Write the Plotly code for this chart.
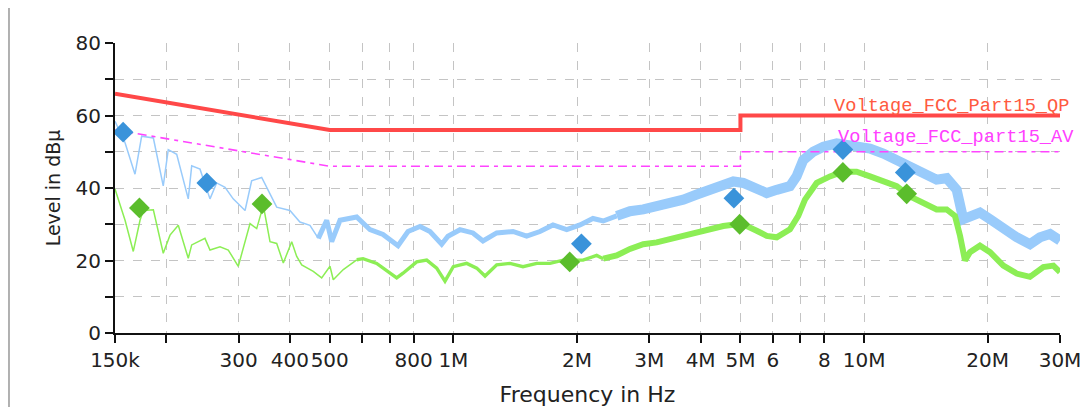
import plotly.graph_objects as go

# ---------------- data ----------------
# Peak (QP scan) trace, light blue
qp_freq = [150e3, 158.7e3, 167.8e3, 174.2e3, 186e3, 196.6e3, 202.2e3, 212e3, 226.2e3, 230.6e3,
           241.6e3, 255.5e3, 265.2e3, 278e3, 291e3, 311e3, 322.7e3, 341.4e3, 357.7e3, 371.4e3,
           400e3, 423e3, 447.5e3, 469e3, 491.6e3, 505.5e3, 529.6e3, 581.6e3, 626.7e3, 674e3,
           712.9e3, 733.2e3, 775.4e3, 829.2e3, 877.2e3, 936.6e3, 970.2e3, 1.0377e6, 1.1161e6, 1.1806e6,
           1.275e6, 1.397e6, 1.508e6, 1.625e6, 1.748e6, 1.888e6, 2.034e6, 2.187e6, 2.317e6, 2.499e6,
           2.692e6, 2.9e6, 3.127e6, 3.368e6, 3.629e6, 3.914e6, 4.216e6, 4.542e6, 4.805e6, 5.081e6,
           5.477e6, 5.794e6, 6.128e6, 6.6e6, 6.85e6, 7.11e6, 7.52e6, 7.96e6, 8.58e6, 9.59e6,
           10.34e6, 11.14e6, 12.01e6, 12.94e6, 13.94e6, 15.02e6, 15.89e6, 16.81e6, 17.44e6, 18.11e6,
           19.15e6, 20.26e6, 21.83e6, 23.53e6, 25.35e6, 26.82e6, 28.37e6, 30e6]
qp_level = [58.4, 52.5, 43.8, 54.3, 53.8, 40.6, 50.6, 49.3, 37.0, 46.1,
            45.2, 37.0, 41.4, 40.2, 37.0, 33.8, 42.0, 42.9, 38.4, 34.7,
            33.8, 30.6, 29.7, 26.1, 31.1, 25.2, 31.1, 32.0, 28.5, 27.2,
            25.4, 24.1, 28.0, 29.4, 28.0, 24.5, 26.7, 28.5, 27.6, 25.4,
            27.6, 28.0, 26.7, 28.0, 29.8, 28.5, 29.8, 31.6, 30.9, 32.3,
            33.6, 34.1, 35.0, 35.5, 36.8, 38.2, 39.5, 40.9, 41.8, 41.4,
            40.0, 38.6, 39.5, 40.5, 43.2, 47.7, 50.0, 51.4, 52.3, 51.8,
            50.9, 49.5, 47.7, 45.9, 44.5, 42.3, 42.7, 39.5, 31.4, 32.3,
            33.2, 31.4, 28.6, 26.4, 24.5, 26.4, 27.3, 25.5]

# Average trace, light green
av_freq = [150e3, 158.7e3, 166.2e3, 172.6e3, 175.8e3, 186e3, 196.6e3, 204.2e3, 213.9e3, 226.2e3,
           230.6e3, 248.4e3, 255.5e3, 270.3e3, 283.1e3, 299.4e3, 319.8e3, 332e3, 344.5e3, 357.7e3,
           371.4e3, 385.4e3, 404e3, 415.5e3, 427.3e3, 455.9e3, 477.9e3, 500.7e3, 510e3, 539.5e3,
           581.6e3, 602.7e3, 650.6e3, 700.7e3, 727.8e3, 754e3, 814.1e3, 861.2e3, 910.8e3, 954.1e3,
           999.5e3, 1.0777e6, 1.1399e6, 1.1942e6, 1.275e6, 1.3738e6, 1.4774e6, 1.5954e6, 1.7192e6, 1.8524e6,
           2.0688e6, 2.2334e6, 2.317e6, 2.499e6, 2.692e6, 2.9e6, 3.127e6, 3.368e6, 3.629e6, 3.914e6,
           4.216e6, 4.542e6, 4.897e6, 5.18e6, 5.477e6, 5.794e6, 6.128e6, 6.6e6, 6.915e6, 7.18e6,
           7.667e6, 8.26e6, 8.886e6, 9.59e6, 10.34e6, 11.14e6, 12.01e6, 12.94e6, 13.94e6, 15.02e6,
           15.89e6, 16.65e6, 17.13e6, 17.61e6, 18.11e6, 19.15e6, 20.26e6, 21.83e6, 23.53e6, 25.35e6,
           27.32e6, 28.9e6, 30e6]
av_level = [39.7, 31.1, 22.5, 31.1, 33.8, 34.0, 22.0, 27.0, 29.7, 20.6,
            24.3, 26.1, 22.9, 23.8, 22.9, 18.4, 30.2, 28.8, 35.2, 25.2,
            24.7, 19.3, 25.2, 21.1, 18.8, 17.0, 15.2, 18.4, 14.7, 17.5,
            20.2, 20.5, 19.2, 16.5, 15.2, 16.5, 19.6, 20.1, 17.9, 14.3,
            18.3, 19.2, 17.9, 15.7, 18.8, 19.2, 18.3, 19.2, 19.2, 20.1,
            20.1, 21.4, 20.5, 21.4, 23.2, 24.5, 25.0, 25.9, 26.8, 27.7,
            28.6, 29.5, 30.0, 29.5, 28.2, 26.8, 26.4, 28.6, 32.3, 36.8,
            41.4, 43.2, 44.5, 44.5, 43.2, 41.8, 40.5, 37.7, 35.9, 34.1,
            34.1, 32.3, 26.8, 20.0, 22.3, 24.1, 22.3, 18.6, 16.4, 15.5,
            18.2, 18.6, 16.8]

# Final measurement points
qp_mark_freq = [157e3, 251e3, 2.05e6, 4.82e6, 8.88e6, 12.6e6]
qp_mark_level = [55.4, 41.4, 24.6, 37.2, 50.6, 44.3]
av_mark_freq = [172e3, 342e3, 1.92e6, 4.98e6, 8.88e6, 12.7e6]
av_mark_level = [34.5, 35.6, 19.6, 30.0, 44.3, 38.4]

# Limit lines (FCC Part 15)
limit_freq = [150e3, 500e3, 5e6, 5e6, 30e6]
qp_limit = [66, 56, 56, 60, 60]
av_limit = [56, 46, 46, 50, 50]
qp_limit_name = "Voltage_FCC_Part15_QP"
av_limit_name = "Voltage_FCC_part15_AV"

# Axis ticks
x_tickvals = [150e3, 200e3, 300e3, 400e3, 500e3, 600e3, 700e3, 800e3, 1e6, 2e6, 3e6, 4e6,
              5e6, 6e6, 7e6, 8e6, 10e6, 20e6, 30e6]
x_ticktext = ["150k", "", "300", "400", "500", "", "", "800", "1M", "2M", "3M", "4M",
              "5M", "6", "", "8", "10M", "20M", "30M"]
y_tickvals = [0, 10, 20, 30, 40, 50, 60, 70, 80]
y_ticktext = ["0", "", "20", "", "40", "", "60", "", "80"]

# ---------------- figure ----------------
BLUE_LINE = "#99cbfb"
GREEN_LINE = "#8cee55"
BLUE_MARK = "#3a93da"
GREEN_MARK = "#5bbd2c"


def seg(freqs, levels, lo, hi):
    pts = [(f, v) for f, v in zip(freqs, levels) if lo <= f <= hi]
    return [p[0] for p in pts], [p[1] for p in pts]


fig = go.Figure()

for (lo, hi, w) in [(150e3, 469e3, 1.5), (469e3, 2.499e6, 5), (2.499e6, 30e6, 10)]:
    fx, fy = seg(qp_freq, qp_level, lo, hi)
    fig.add_trace(go.Scatter(x=fx, y=fy, mode="lines", showlegend=False,
                             line=dict(color=BLUE_LINE, width=w), hoverinfo="skip"))

for (lo, hi, w) in [(150e3, 581.6e3, 1.5), (581.6e3, 2.317e6, 3.4), (2.317e6, 30e6, 6)]:
    fx, fy = seg(av_freq, av_level, lo, hi)
    fig.add_trace(go.Scatter(x=fx, y=fy, mode="lines", showlegend=False,
                             line=dict(color=GREEN_LINE, width=w), hoverinfo="skip"))

fig.add_trace(go.Scatter(x=limit_freq, y=av_limit, mode="lines", name=av_limit_name,
                         showlegend=False,
                         line=dict(color="#ff44ff", width=1.6, dash="9px,5px,4px,5px")))
fig.add_trace(go.Scatter(x=limit_freq, y=qp_limit, mode="lines", name=qp_limit_name,
                         showlegend=False, line=dict(color="#ff4848", width=4)))

fig.add_trace(go.Scatter(x=qp_mark_freq, y=qp_mark_level, mode="markers", showlegend=False,
                         marker=dict(symbol="diamond", size=16, color=BLUE_MARK,
                                     line=dict(width=0))))
fig.add_trace(go.Scatter(x=av_mark_freq, y=av_mark_level, mode="markers", showlegend=False,
                         marker=dict(symbol="diamond", size=16, color=GREEN_MARK,
                                     line=dict(width=0))))

fig.add_annotation(x=1.013, xref="paper", y=qp_limit[-1], yref="y", text=qp_limit_name,
                   showarrow=False, xanchor="right", yanchor="bottom", yshift=-3,
                   font=dict(family="Liberation Mono", size=18.7, color="#ff5a40"))
fig.add_annotation(x=1.017, xref="paper", y=av_limit[-1], yref="y", text=av_limit_name,
                   showarrow=False, xanchor="right", yanchor="bottom", yshift=2,
                   font=dict(family="Liberation Mono", size=18.7, color="#ff40ff"))

# left panel frame line
fig.add_shape(type="line", xref="paper", yref="paper", x0=-0.1122, x1=-0.1122, y0=-0.26, y1=1.121,
              line=dict(color="#b0b0b0", width=2))

tick_font = dict(family="DejaVu Sans", size=20, color="#222222")

fig.update_xaxes(type="log", range=[5.1761, 7.4771], tickvals=x_tickvals, ticktext=x_ticktext,
                 tickangle=0, automargin=False,
                 showline=True, linecolor="#111111", linewidth=2, ticks="outside", ticklen=8,
                 tickwidth=2, tickcolor="#111111", tickfont=tick_font,
                 showgrid=True, gridcolor="#c4c4c4", griddash="dash", gridwidth=1.3,
                 zeroline=False, mirror=False,
                 title=dict(text="Frequency in Hz", font=dict(family="DejaVu Sans",
                                                              size=22, color="#222222"),
                            standoff=19))
fig.update_yaxes(range=[0, 80], tickvals=y_tickvals, ticktext=y_ticktext,
                 automargin=False,
                 showline=True, linecolor="#111111", linewidth=2, ticks="outside", ticklen=8,
                 tickwidth=2, tickcolor="#111111", tickfont=tick_font,
                 showgrid=True, gridcolor="#c4c4c4", griddash="dash", gridwidth=1.3,
                 zeroline=False,
                 title=dict(text="Level in dBµ", font=dict(family="DejaVu Sans",
                                                           size=19, color="#222222"),
                            standoff=10))

# page body has an 8px margin: offset margins so the plot area lands where the reference has it
fig.update_layout(width=1076, height=399, paper_bgcolor="white", plot_bgcolor="white",
                  margin=dict(l=107, r=24, t=35, b=74), showlegend=False)

fig.write_html("out.html")
